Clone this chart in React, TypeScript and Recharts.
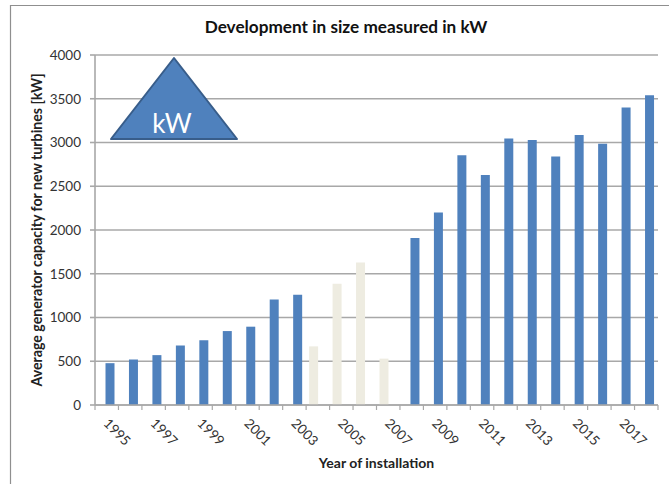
import { BarChart, Bar, XAxis, YAxis, CartesianGrid, Label } from "recharts";

const years = [1995, 1996, 1997, 1998, 1999, 2000, 2001, 2002, 2003, 2004, 2005, 2006, 2007, 2008, 2009, 2010, 2011, 2012, 2013, 2014, 2015, 2016, 2017, 2018];
const blueValues = [478, 520, 570, 680, 740, 845, 895, 1205, 1260, null, null, null, null, 1910, 2200, 2855, 2630, 3045, 3030, 2840, 3085, 2985, 3400, 3540];
const beigeValues = [null, null, null, null, null, null, null, null, null, 670, 1385, 1630, 530, null, null, null, null, null, null, null, null, null, null, null];
const yTicks = [0, 500, 1000, 1500, 2000, 2500, 3000, 3500, 4000];

const data = years.map((year, i) => ({ year, blue: blueValues[i], beige: beigeValues[i] }));

const FONT = "Lato, sans-serif";
const AXIS = "#a8a8a8";
const TEXT = "#333333";
const STEP = 563 / 24;

// Excel style: tick marks between the categories, a slanted label every second year
function YearTick({ x, y, index, payload }: any) {
  const labelX = x + 9.5;
  const labelY = y + 20;
  return (
    <g>
      <line x1={x - STEP / 2} x2={x - STEP / 2} y1={y - 8} y2={y - 3} stroke={AXIS} strokeWidth={1.2} />
      {index === years.length - 1 && (
        <line x1={x + STEP / 2} x2={x + STEP / 2} y1={y - 8} y2={y - 3} stroke={AXIS} strokeWidth={1.2} />
      )}
      {index % 2 === 0 && (
        <text
          x={labelX}
          y={labelY}
          textAnchor="middle"
          dominantBaseline="middle"
          fontFamily={FONT}
          fontSize={13.5}
          fill={TEXT}
          transform={`rotate(45 ${labelX} ${labelY})`}
        >
          {payload.value}
        </text>
      )}
    </g>
  );
}

export default function App() {
  return (
    <div style={{ position: "absolute", left: 0, top: 0, width: 669, height: 484, background: "#fff", overflow: "hidden" }}>
      <BarChart
        width={669}
        height={484}
        data={data}
        margin={{ top: 55, right: 11, left: 0, bottom: 0 }}
        barSize={9}
        barGap={-1.5}
      >
        <CartesianGrid horizontal vertical={false} stroke={AXIS} strokeWidth={1.6} />
        <XAxis
          dataKey="year"
          height={79}
          interval={0}
          tickLine={false}
          axisLine={{ stroke: AXIS, strokeWidth: 1.6 }}
          tick={YearTick}
        >
          <Label
            value="Year of installation"
            position="insideBottom"
            offset={16}
            style={{ fontFamily: FONT, fontSize: 14, fontWeight: 700, fill: "#222" }}
          />
        </XAxis>
        <YAxis
          width={95}
          domain={[0, 4000]}
          ticks={yTicks}
          interval={0}
          tickSize={5}
          tickMargin={9}
          tickLine={{ stroke: AXIS, strokeWidth: 1.6 }}
          axisLine={{ stroke: AXIS, strokeWidth: 1.6 }}
          tick={{ fontFamily: FONT, fontSize: 13.5, fill: TEXT }}
        >
          <Label
            value="Average generator capacity for new turbines [kW]"
            angle={-90}
            position="center"
            dx={-11}
            style={{ fontFamily: FONT, fontSize: 14.2, fontWeight: 700, fill: "#222", textAnchor: "middle" }}
          />
        </YAxis>
        <Bar dataKey="beige" fill="#eeece1" isAnimationActive={false} />
        <Bar dataKey="blue" fill="#4f81bd" isAnimationActive={false} />
      </BarChart>
      <svg width={669} height={484} style={{ position: "absolute", left: 0, top: 0 }}>
        <path d="M10.5 484 V5.5 H669" fill="none" stroke="#8f8f8f" strokeWidth={1.2} />
        <text x={346} y={33} textAnchor="middle" fontFamily={FONT} fontSize={17.2} fontWeight={700} fill="#111">
          Development in size measured in kW
        </text>
        <polygon points="174,58 111,139 237,139" fill="#4f81bd" stroke="#385d8a" strokeWidth={2} strokeLinejoin="round" />
        <text x={172} y={133} textAnchor="middle" fontFamily={FONT} fontSize={26} fill="#fff">
          kW
        </text>
      </svg>
    </div>
  );
}
